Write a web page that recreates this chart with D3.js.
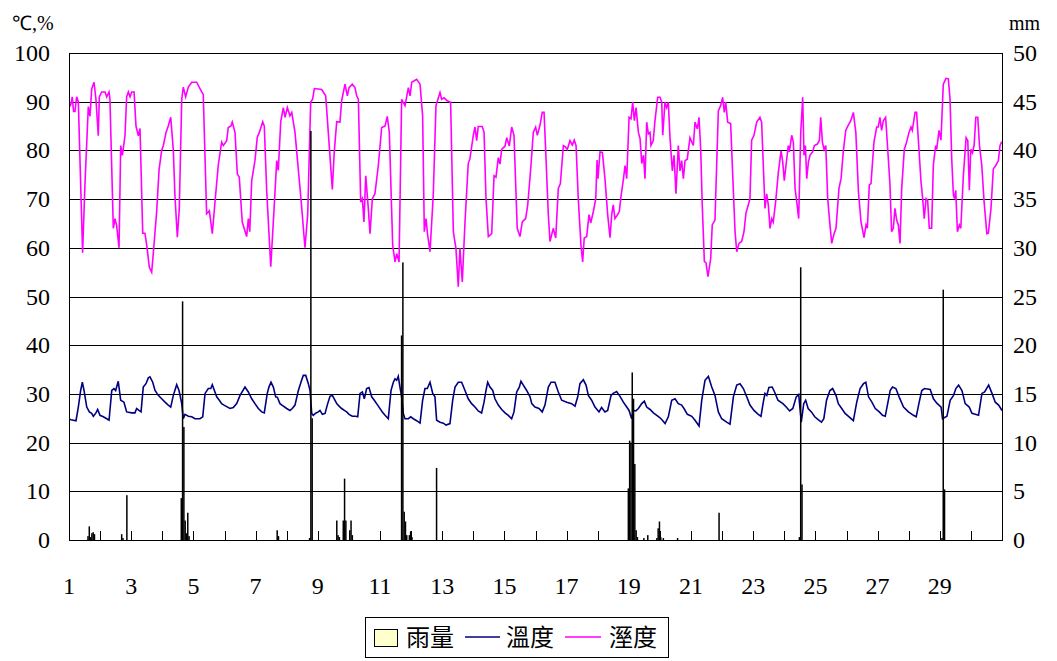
<!DOCTYPE html>
<html>
<head>
<meta charset="utf-8">
<script src="https://cdn.jsdelivr.net/npm/d3@7/dist/d3.min.js"></script>
<style>
  body { margin: 0; background: #fff; }
  text { font-family: "Liberation Serif", "Times New Roman", serif; fill: #000; }
  .cjk { font-family: "Noto Sans CJK TC", "Noto Sans CJK SC", sans-serif; }
</style>
</head>
<body>
<svg id="chart" width="1057" height="661"></svg>
<script>
// hourly record, x = hour since day 1 00:00 (30 days = 720 h)
var dayLabels = [1, 3, 5, 7, 9, 11, 13, 15, 17, 19, 21, 23, 25, 27, 29];
var leftTicks = [0, 10, 20, 30, 40, 50, 60, 70, 80, 90, 100];
var rightTicks = [0, 5, 10, 15, 20, 25, 30, 35, 40, 45, 50];
var legendNames = ["雨量", "溫度", "溼度"];

// 溼度 (%)  [hour, value]
var humidity = [[0.5,89],[1.5,89.5],[2.5,91],[3.5,88],[4.6,88],[5.9,91],[7.2,90],[10.5,59],[12.3,73],[14.9,89],[16.2,87],[17.5,92.6],[19.3,94],[20.8,90.5],[22.6,83],[23.4,91],[25.2,92],[27.8,92],[29.1,91],[30.9,92],[31.6,90.5],[34.2,64],[35.5,66],[36.8,64.5],[38.6,60],[39.9,81],[41.2,79],[43.2,83],[44.5,91],[45.8,92],[47.1,91],[48.4,92],[50.2,92],[51.7,85],[53.5,83],[54.8,84.5],[56.9,63],[58.6,63],[60,60.5],[62,56],[63.8,55],[65.1,59],[67.7,67.6],[69.5,76],[71.5,80],[72.8,81],[74.9,83.7],[76.6,85],[78.5,86.8],[80.5,80],[81.8,70.5],[83.6,62.2],[85.1,68],[87,90.5],[88.2,93],[90,91],[92.1,93],[94.7,94],[98.5,94],[102.4,92],[103.6,91.5],[106.2,67],[108.3,67.6],[110.6,62.9],[112.7,69.5],[115.2,77],[117.8,81.7],
[119.1,81],[121.7,82],[122.9,84.7],[125,85],[126,85.8],[128.1,83.7],[129.9,75.2],[131.4,74.5],[133.7,65.3],[137.1,62.3],[138.4,66],[139.5,63.3],[141,73.8],[143.5,77.9],[145.3,82.7],[146.9,83.7],[149.5,85.9],[150.7,85],[152.6,71.5],[155.7,56.1],[158.4,68.7],[160.3,77.9],[161.5,75.9],[163.4,85.9],[165.4,88.8],[166.7,86.8],[168.5,88.8],[170.5,87.1],[171.9,87.8],[174.4,83.7],[179,70.1],[182.1,60],[184.2,66.8],[186.5,89.9],[188,90.5],[189.3,92.7],[192.4,92.6],[195,92.5],[198.1,91.2],[200.1,83.7],[203.2,72],[204.7,79.7],[206.6,85.9],[209.1,85.8],[210.4,90.2],[213,93.6],[214.8,91.2],[216.1,92.9],[218.6,93.6],[220.7,92.9],[222,91.2],[223.3,90.5],[225.1,69.4],[226.4,70.1],[227.6,65.3],[229,74.8],[231,68],[232.3,62.9],[234.1,70.1],[236.1,71.1],[238.7,76.9],
[241.3,84.7],[243.9,85],[245.6,87],[247.2,83.7],[249.8,60.5],[251.6,57.1],[252.9,58.8],[254.7,57.1],[256.7,90.5],[259.3,89.2],[261.9,92.9],[263.2,91.2],[264.5,94],[268.3,94.6],[270.9,93.6],[272.9,87.1],[274.2,63.3],[275.5,66],[276.8,62.6],[278.6,59.2],[281.1,70.8],[283.2,89.2],[286.3,91.9],[287.6,90.5],[289.4,90.8],[291.9,90.2],[294.5,89.9],[296.6,63.3],[298.6,59.9],[300.4,52],[301.7,59.9],[303.5,53],[305.6,65.3],[308.1,77.3],[309.4,78.3],[312,83.1],[313.3,84.8],[314.6,82],[315.8,84.9],[318.9,84.9],[320.3,83.7],[321.8,70.1],[323.6,62.3],[326.2,62.9],[328,74.8],[329.5,74.5],[331.3,78.5],[332.6,77.2],[333.9,80.2],[336.5,80.9],[337.8,82.6],[339.8,80.9],[341.6,84.8],[343.4,83.1],[345.9,64],[348,62.3],[349.8,65.3],[352.4,66],
[354,68.8],[356.5,76.9],[358.3,83.7],[360.1,84.8],[361.4,83.1],[363.5,85.2],[365.2,87.8],[366.6,87.8],[367.9,79.7],[369.9,66.8],[371.2,61.3],[373.7,64],[375.6,62],[377.6,72.2],[379.2,73.2],[381.5,81],[382.8,80.8],[384.5,80.2],[386.6,82],[388.4,81.1],[389.9,82.1],[391.3,81],[393,70.1],[395.1,60.5],[396.4,57.1],[397.6,62],[399.5,62.3],[401.3,66.8],[402.6,65.1],[404.6,67.4],[406.5,70.1],[407.5,78],[408.2,74.2],[409.8,79.7],[411.6,79.6],[413.6,74.2],[415.7,66.8],[417.5,62.1],[418.8,66.8],[420,68.8],[421.3,66],[423.4,66.8],[424.7,67.5],[426,70.6],[427.8,74],[429.1,76.9],[430.4,74.2],[432.2,86.8],[433.7,86.5],[435,89.9],[436.3,86.1],[437.6,88.8],[439.4,83.7],[440.7,82.4],[442,77.3],[443.3,79],[444.5,74.2],[445.8,85.8],[447.1,83.4],[448.4,83.7],[449.1,81],[450.9,82],[452.2,86.1],[454.3,90.9],[456.1,90.9],[457.4,89.9],[458.2,83.1],[459.9,89.9],[461.2,88.8],[462.5,89.9],[463.8,82.6],[465.6,75.8],[466.9,79],[468.4,71.1],[470.2,81],[471.5,75.8],[472.8,77.9],[474.1,74.2],[475.4,77.9],[477.1,78.2],[479.2,82.6],
[481.8,81],[483.1,85.8],[484.9,84.4],[486.2,86.8],[487.5,80.2],[488.7,68.7],[490.3,57.2],[491.6,56.9],[493.1,54.1],[495.2,57.8],[496.4,64.7],[498.5,65.7],[499.8,76.9],[501.1,88.1],[502.9,89.2],[504.4,90.9],[505.7,87.8],[506.8,89.9],[508.3,85.8],[510.6,85.5],[512.2,74.9],[514,63.3],[515.3,59.2],[517,60.9],[519.1,61.3],[520.9,63.3],[522.4,67.1],[524.2,68.8],[525.5,70.1],[526.8,82.1],[528.6,83.1],[530.7,85.8],[533.2,86.8],[534.5,85.8],[535.8,76.9],[537.1,68.1],[538.4,71.1],[539.7,68.7],[541,64],[542.3,66],[543.5,65.3],[545.4,69.7],[547.4,75.5],[549.5,79.9],[550.8,77.6],[552,73.8],[553.3,76.9],[555.1,81],[555.9,79.7],[557.7,83.1],[559,81.7],[560.3,72.2],[561.6,69.5],[563.1,66],[564.7,83.7],[566.2,90.9],[567.2,79],[568.3,81],[569.3,74.2],[570.6,77.6],[571.8,79],[573.9,79.7],[575.2,81],[577.5,81.3],[579.1,82.1],[580.1,86.8],[581.4,81.7],[582.7,80.2],[584,81],[585.5,70.1],[586.8,66],[588.6,60.9],[590.4,62.9],[591.9,64],
[594.2,72.2],[595.8,74.2],[597.5,79.7],[599.4,84.1],[601.4,85.2],[603.3,86.1],[605.3,87.8],[607.2,83.7],[609.2,71.5],[611.2,65.3],[613.5,62.1],[615.1,64.7],[616.1,64],[617.6,72.9],[618.9,73.2],[621.2,81.7],[623.3,84.8],[624.5,84.8],[625.8,86.8],[627.1,84.1],[628.4,86.1],[630.2,86.8],[631.8,80.3],[633.5,73.2],[634.8,63.3],[636.1,64],[637.4,68.1],[638.7,65.7],[640,64.7],[641.3,60.9],[642.6,72.2],[644.6,80.2],[646.4,81.7],[648.2,83.7],[649.8,84.8],[650.8,84.1],[652.9,87.8],[654.1,87.8],[655.4,82.4],[657.5,73.5],[658.8,70.1],[660,66],[661.4,70.1],[662.6,69.8],[663.9,64],[665.7,64],[667,76.9],[668.8,81],[669.6,80.2],[671.4,84.1],[672.9,82.1],[674.7,93.6],[676.8,94.8],[678.6,94.7],[679.9,90.5],[681.2,78.3],[682.5,70.8],[683.3,70.1],[684.3,71.8],[685.6,63.3],[687.1,64.7],[688.2,64],[690.2,74.9],[692.3,82.6],[693.6,82],[694.8,71.8],[695.9,80.2],[697.2,79.5],[698.5,81.1],[699.8,86.8],[701.3,86.8],[702.6,81.1],[704.4,76.9],[706.2,69.4],[708.3,62.9],[709.5,63],[711.5,68.1],[713.3,76.2],[715.2,76.9],[717.2,77.9],[718.5,81],[719.8,81.8]];

// 溫度 (℃)  [hour, value]
var temperature = [[0.5,24.8],[1.5,24.7],[5.4,24.5],[7.2,27.3],[9,30.7],[10.3,32.4],[11.6,30.7],[13.7,27.3],[15.7,26.3],[17.5,26],[18.8,25.4],[20.8,26.1],[22.1,26.8],[23.9,25.6],[26.5,25.3],[29.1,24.9],[30.9,24.6],[33,30.7],[34.7,31.1],[36,30.7],[38,32.6],[39.9,28.7],[42.4,28.3],[44.5,26.3],[48.4,26.1],[50.9,26.1],[52.2,27],[54,26.6],[55.6,26.3],[57.3,31.4],[59.4,32.1],[61.2,33.3],[62.5,33.5],[64.6,32.4],[66.4,30.7],[68.9,29.7],[71.5,29],[74.1,28.3],[76.6,27.7],[78.5,27.3],[80.5,29.7],[83.1,31.9],[84.9,30.7],[87,28],[88.2,24.9],[89.5,25.8],[92.1,25.4],[94.7,25.3],[97.2,24.9],[101.1,24.9],[103.2,25.3],[105,30.1],[107.5,31.1],[109.4,31.1],[110.6,31.9],[112.2,30.7],[114,29.4],[116,28.7],[117.8,28],[119.6,27.7],
[124.2,27],[126.8,27.2],[129.4,28],[132,29.7],[135.8,31.4],[138.4,30.4],[141,29],[143.5,28],[146.1,27],[148.7,26.3],[150.7,26.1],[153,30.1],[154.3,31.4],[155.9,32.4],[157.7,31.4],[159.5,29.4],[160.8,29.3],[162.8,28],[165.4,27.5],[168,27],[170.5,26.6],[172.3,27],[174.4,27.7],[177,30.7],[179,32.4],[180.8,33.8],[182.7,33.8],[184.7,32.1],[186,30.7],[187.3,26],[188.5,25.6],[190.6,26.1],[192.4,26.3],[193.7,26.6],[195.5,25.8],[197.6,26],[199.3,27.7],[201.4,29.5],[203.2,29.7],[204.7,29],[206.6,28],[208.4,27.5],[210.4,27],[212.5,26.6],[214.3,26.3],[216.1,25.8],[218.6,25.4],[221.3,25.4],[222.8,25.3],[224.6,30.1],[226.4,30.4],[227.9,29],[229.7,31.1],[231.5,31.3],[233.6,29.4],[235.6,28.7],[238.2,27.7],
[241.8,26.3],[243.9,25.6],[246.4,24.9],[248.5,30.7],[250.3,32.4],[251.6,33.1],[252.9,32.8],[254.1,33.6],[255.4,31.4],[256.7,29.4],[258,26],[259.3,24.9],[261.9,24.9],[263.7,25.3],[265.7,24.9],[268.3,24.5],[270.9,24],[272.9,28.7],[274.7,31.1],[276.5,31.1],[278.6,32.4],[280.7,30.1],[282.4,29.4],[283.7,24.6],[286.3,24.2],[288.9,24],[290.9,23.6],[294,23.9],[296.1,28.7],[297.9,31.4],[300.4,32.4],[303,32.4],[305.6,30.7],[308.1,29],[310.7,28],[313.3,27.3],[315.8,26.5],[318.4,26.1],[320.3,28.3],[321.8,30.7],[323.1,32.4],[324.9,31.4],[327,30.7],[328.7,29],[331.3,27.7],[333.9,26.8],[336.5,26.1],[339,25.6],[341.6,24.9],[343.4,26.3],[345.5,30.4],[347.5,31.4],[348.8,32.6],[350.6,31.8],[353.2,30.7],[355.8,29.4],
[357.1,28],[359.6,27.3],[362.7,27],[365.2,26.3],[367.3,27.7],[369.9,31.4],[372,32.4],[375,32.4],[377.6,30.4],[380.2,28.7],[384.1,28.3],[387.9,28],[390.5,27.5],[392.6,29.4],[394.3,32.1],[396.9,32.9],[399,31.8],[400.8,29.7],[403.3,28.7],[405.9,27.3],[409,26.3],[411,27.2],[413.6,26.3],[415.7,26.6],[418.3,29.7],[420,30.1],[422.6,30.5],[425.2,29.5],[427.8,28.3],[430.4,27.3],[432.2,26.6],[434.2,24.9],[435.5,26.6],[437.4,26.5],[439.4,27],[442,28],[444,28.5],[445.8,27.3],[448.4,26.8],[451,26.1],[453.6,25.6],[456.1,25.1],[457.9,24.6],[460,23.9],[462.5,25.3],[465.1,28.7],[467.7,29],[470.2,28],
[472.8,27.7],[474.6,27],[477.2,25.8],[480.6,25.4],[483.1,24.6],[486.2,23.4],[488.3,28.7],[490.8,32.8],[493.4,33.6],[496,31.4],[498.5,29.7],[501.1,26.3],[503.7,24.9],[507.5,24.2],[510.1,23.8],[512.7,29.4],[515.3,31.8],[517.8,32.1],[520.4,31.1],[523,29.4],[525.5,27.7],[528.6,26.6],[531.9,25.8],[534,25.4],[535.8,28.3],[537.1,30.1],[538.5,29.7],[540.1,31.3],[542.7,31.4],[544.5,30.4],[547.1,28.7],[550.9,28],[553.5,27.3],[556.1,26.5],[558.6,27],[561.2,29.4],[563.1,29.9],[565.1,24.2],[567,28],[568.5,28.7],[570.4,27],[572.9,26.3],[575.5,25.3],[578.1,24.7],[580.7,24.2],[582.5,24.9],[584.6,28.7],[587.2,30.7],[589.3,31.1],[591.9,29.7],
[593.7,28],[596.3,27],[598.9,26],[602,25.3],[605.3,24.5],[607.9,28.3],[610.5,31.1],[613.1,32.1],[614.9,32.4],[617,29.4],[619.6,28.3],[622.2,27],[625.3,26.3],[627.8,25.6],[629.9,25.4],[632,28.3],[633.7,30.7],[635.5,31.4],[638.1,31.1],[640.6,29.4],[644,27.3],[647.8,26.3],[651.7,25.6],[653.8,25.3],[656.1,28.3],[658.1,30.7],[660.2,31.1],[664.6,30.9],[667.1,29],[669.7,28.1],[673,27.3],[674.1,24.9],[677.5,25.4],[680,28.7],[682.6,29.7],[684.4,31.1],[686.5,31.8],[689.1,30.7],[691.6,28],[694.7,27.3],[696.8,26],[699.4,25.8],[701.9,25.6],[704.5,30.1],[706.6,30.4],[709.7,31.8],[712.3,30.1],[714.8,28.3],[717.4,27.7],[720,26.6]];

// 雨量 (mm per hour)  [hour, value]
var rainfall = [[14,0.4],[15,1.4],[16,0.3],[17,0.7],[18,0.8],[19,0.6],[40,0.6],[41,0.2],[44,4.6],[86,4.3],[87,24.5],[88,11.6],[89,2],[90,0.7],[91,2.8],[92,0.4],[160,1],[161,0.4],[185,0.2],[186,42],[187,12.5],[206,2],[207,0.5],[208,0.3],[211,2],[212,6.3],[213,2],[216,1],[217,2],[218,0.5],[256,21],[257,28.5],[258,2.9],[259,1.9],[260,0.5],[262,0.5],[263,0.9],[264,0.3],[283,7.4],[431,5.3],[432,10.2],[433,10],[434,17.2],[435,14.5],[436,7.8],[437,1],[438,0.3],[443,0.2],[446,0.5],[453,0.2],[454,1.2],[455,1.9],[456,0.3],[458,0.2],[469,0.2],[501,2.8],[563,0.3],[564,28],[565,5.7],[673,0.2],[674,25.7],[675,5.2]];

var tempColor = "#000080";
var humColor = "#ff00ff";

function drawChart() {
  var svg = d3.select("#chart");
  var left = 69, right = 1002, top = 53, bottom = 540;

  var x = d3.scaleLinear().domain([0, 720]).range([left, right]);
  var yL = d3.scaleLinear().domain([0, 100]).range([bottom, top]);
  var yR = d3.scaleLinear().domain([0, 50]).range([bottom, top]);

  // grid
  svg.append("g").selectAll("line")
    .data(leftTicks.filter(d => d > 0))
    .enter().append("line")
    .attr("x1", left).attr("x2", right)
    .attr("y1", d => Math.round(yL(d)) + 0.5)
    .attr("y2", d => Math.round(yL(d)) + 0.5)
    .attr("stroke", "#000").attr("stroke-width", 1);

  // lines
  var line = d3.line().x(d => x(d[0])).y(d => yL(d[1]));
  svg.append("path").datum(temperature)
    .attr("d", line).attr("fill", "none")
    .attr("stroke", tempColor).attr("stroke-width", 1.6);
  svg.append("path").datum(humidity)
    .attr("d", line).attr("fill", "none")
    .attr("stroke", humColor).attr("stroke-width", 1.6);

  // rain columns (secondary axis)
  svg.append("g").selectAll("rect")
    .data(rainfall)
    .enter().append("rect")
    .attr("x", d => x(d[0]) + 0.1)
    .attr("width", d => Math.max(1.5, x(d[0] + 1) - x(d[0]) - 0.2))
    .attr("y", d => yR(d[1]))
    .attr("height", d => bottom - yR(d[1]))
    .attr("fill", "#000");

  // axes frame
  svg.append("line").attr("x1", left + 0.5).attr("x2", left + 0.5)
    .attr("y1", top).attr("y2", bottom).attr("stroke", "#000");
  svg.append("line").attr("x1", right + 0.5).attr("x2", right + 0.5)
    .attr("y1", top).attr("y2", bottom + 0.5).attr("stroke", "#000");
  svg.append("line").attr("x1", left).attr("x2", right + 1)
    .attr("y1", bottom + 0.5).attr("y2", bottom + 0.5).attr("stroke", "#000");

  // day ticks, pointing into the plot
  svg.append("g").selectAll("line")
    .data(d3.range(0, 31))
    .enter().append("line")
    .attr("x1", d => Math.round(x(d * 24)) + 0.5)
    .attr("x2", d => Math.round(x(d * 24)) + 0.5)
    .attr("y1", bottom - 9).attr("y2", bottom)
    .attr("stroke", "#000");

  // tick labels
  svg.append("g").selectAll("text")
    .data(dayLabels)
    .enter().append("text")
    .attr("x", d => x((d - 1) * 24))
    .attr("y", 594)
    .attr("text-anchor", "middle")
    .attr("font-size", 24)
    .text(d => d);

  svg.append("g").selectAll("text")
    .data(leftTicks)
    .enter().append("text")
    .attr("x", 50)
    .attr("y", d => yL(d) + 8)
    .attr("text-anchor", "end")
    .attr("font-size", 24)
    .text(d => d);

  svg.append("g").selectAll("text")
    .data(rightTicks)
    .enter().append("text")
    .attr("x", 1013)
    .attr("y", d => yR(d) + 8)
    .attr("text-anchor", "start")
    .attr("font-size", 24)
    .text(d => d);

  // unit labels
  svg.append("text").attr("x", 12).attr("y", 30)
    .attr("font-size", 20).text("℃,%");
  svg.append("text").attr("x", 1009).attr("y", 30)
    .attr("font-size", 20).text("mm");

  // legend
  var lg = svg.append("g");
  lg.append("rect").attr("x", 365.5).attr("y", 617.5)
    .attr("width", 303).attr("height", 40)
    .attr("fill", "#fff").attr("stroke", "#000");
  lg.append("rect").attr("x", 374.5).attr("y", 629.5)
    .attr("width", 23).attr("height", 17)
    .attr("fill", "#ffffcc").attr("stroke", "#000");
  lg.append("line").attr("x1", 465).attr("x2", 500)
    .attr("y1", 637).attr("y2", 637)
    .attr("stroke", tempColor).attr("stroke-width", 1.6);
  lg.append("line").attr("x1", 565).attr("x2", 601)
    .attr("y1", 637).attr("y2", 637)
    .attr("stroke", humColor).attr("stroke-width", 1.6);
  var lx = [406, 506, 609];
  legendNames.forEach(function(n, i) {
    lg.append("text").attr("class", "cjk")
      .attr("x", lx[i]).attr("y", 646)
      .attr("font-size", 24).text(n);
  });
}

drawChart();
</script>
</body>
</html>
